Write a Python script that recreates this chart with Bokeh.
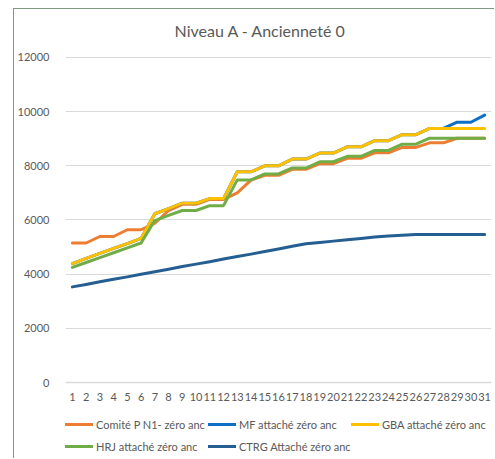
from bokeh.plotting import figure
from bokeh.models import Legend, LegendItem, FixedTicker, Range1d, Label
from bokeh.embed import file_html
from bokeh.resources import INLINE

title = "Niveau A - Ancienneté 0"
x = list(range(1, 32))
comite = [5150,5150,5390,5390,5640,5640,5880,6350,6580,6580,6760,6760,7000,7470,7650,7650,7870,7870,8080,8080,8280,8280,8480,8480,8680,8680,8850,8850,9020,9020,9020]
gba = [4390,4580,4770,4950,5130,5320,6230,6420,6620,6620,6790,6790,7780,7780,8000,8000,8250,8250,8470,8470,8700,8700,8930,8930,9150,9150,9380,9380,9380,9380,9380]
mf = [4390,4580,4770,4950,5130,5320,6230,6420,6620,6620,6790,6790,7780,7780,8000,8000,8250,8250,8470,8470,8700,8700,8930,8930,9150,9150,9380,9380,9610,9610,9870]
hrj = [4250,4430,4610,4790,4970,5150,5980,6170,6350,6350,6530,6530,7480,7480,7700,7700,7920,7920,8150,8150,8350,8350,8570,8570,8800,8800,9020,9020,9020,9020,9020]
ctrg = [3530,3620,3720,3810,3900,4000,4090,4180,4280,4370,4460,4560,4650,4740,4840,4930,5030,5120,5170,5220,5270,5320,5370,5410,5440,5465,5465,5465,5465,5465,5465]
yticks = [0, 2000, 4000, 6000, 8000, 10000, 12000]

names = ["Comité P N1- zéro anc", "MF attaché zéro anc", "GBA attaché zéro anc",
         "HRJ attaché zéro anc", "CTRG Attaché zéro anc"]
series = [comite, mf, gba, hrj, ctrg]
colors = ["#ED7D31", "#0F6FC6", "#FFC000", "#70AD47", "#255E91"]

FONT = "Lato"
TXT = "#595959"

p = figure(width=481, height=450, output_backend="svg", toolbar_location=None,
           x_range=Range1d(0.5, 31.5), y_range=Range1d(-2843, 13772),
           min_border_left=49, min_border_right=4, min_border_top=0, min_border_bottom=0,
           margin=(8, 0, 0, 13),
           styles={"border-left": "1px solid #7f9a80", "border-top": "1px solid #7f9a80"})
p.outline_line_color = None
p.background_fill_color = "white"
p.border_fill_color = "white"

renderers = []
for s, c in zip(series, colors):
    r = p.line(x, s, line_color=c, line_width=3, line_join="round", line_cap="round")
    renderers.append(r)

p.xaxis.ticker = FixedTicker(ticks=x)
p.yaxis.ticker = FixedTicker(ticks=yticks)
for ax in (p.xaxis, p.yaxis):
    ax.major_tick_line_color = None
    ax.minor_tick_line_color = None
    ax.major_label_text_font = FONT
    ax.major_label_text_font_size = "11px"
    ax.major_label_text_color = TXT
p.yaxis.axis_line_color = None
p.yaxis.major_label_standoff = 10
p.xaxis.fixed_location = 0
p.xaxis.axis_line_color = "#d9d9d9"
p.xaxis.axis_line_width = 1.5
p.xaxis.major_label_standoff = 4
p.xgrid.grid_line_color = None
p.ygrid.grid_line_color = "#d9d9d9"

p.add_layout(Label(x=195, y=429, x_units="screen", y_units="screen", text=title,
                   text_font=FONT, text_font_size="16px", text_color=TXT,
                   text_align="center", text_baseline="middle"))

columns = [([0, 3], (0, 3)), ([1, 4], (143, 3)), ([2], (286, 25))]
for idx, loc in columns:
    items = [LegendItem(label=names[i], renderers=[renderers[i]]) for i in idx]
    lg = Legend(items=items, location=loc, label_text_font=FONT, label_text_font_size="11px",
                label_text_color=TXT, glyph_width=28, glyph_height=20, label_height=20,
                label_standoff=3, spacing=2, padding=0, margin=0,
                border_line_color=None, background_fill_alpha=0)
    p.add_layout(lg, "center")

open("out.html", "w").write(file_html(p, INLINE))
